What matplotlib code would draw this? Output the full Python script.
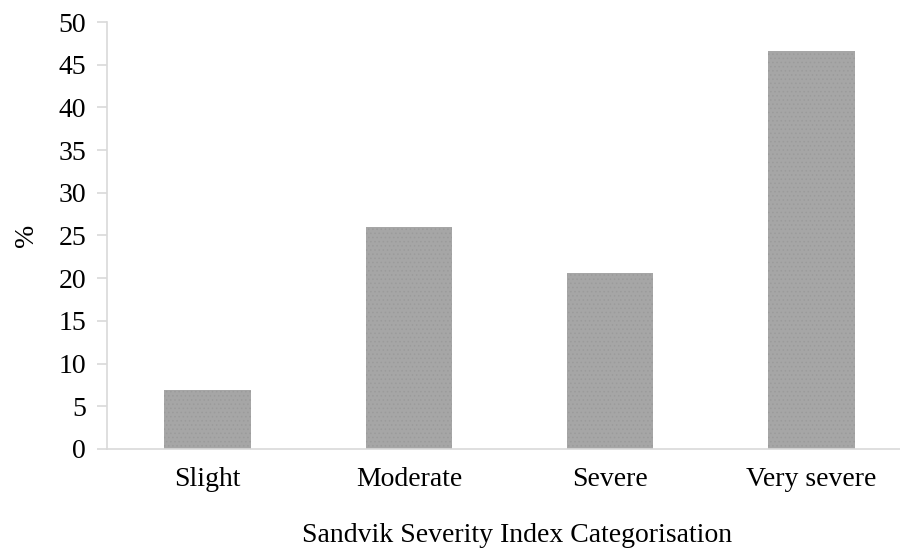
import matplotlib.pyplot as plt

categories = ["Slight", "Moderate", "Severe", "Very severe"]
percent = [6.9, 26.0, 20.6, 46.6]
yticks = list(range(0, 51, 5))

plt.rcParams['font.family'] = ['Liberation Serif', 'DejaVu Serif']
plt.rcParams['hatch.linewidth'] = 0.6

fig = plt.figure(figsize=(9, 5.5), dpi=100)
ax = fig.add_axes([107 / 900, 1 - 449 / 550, 805 / 900, 427 / 550])

bars = ax.bar(range(len(categories)), percent, width=0.43,
              color='#a6a6a6', edgecolor='#9b9b9b', linewidth=0, hatch='....')

ax.set_xlim(-0.5, 3.5)
ax.set_ylim(0, 50)
ax.set_yticks(yticks)
ax.set_xticks(range(len(categories)))
ax.set_xticklabels(categories)

for side in ['top', 'right']:
    ax.spines[side].set_visible(False)
ax.spines['left'].set_color('#d9d9d9')
ax.spines['bottom'].set_color('#d9d9d9')
ax.spines['left'].set_linewidth(1.2)
ax.spines['bottom'].set_linewidth(1.2)

ax.tick_params(axis='y', labelsize=20, length=7, width=1.2, color='#d9d9d9', pad=8)
ax.tick_params(axis='x', labelsize=20, length=0, pad=13)

ax.set_ylabel('%', fontsize=20, labelpad=14)
fig.text(517 / 900, 1 - 535 / 550, 'Sandvik Severity Index Categorisation',
         fontsize=20, ha='center', va='center')

plt.savefig('out.png', dpi=100)
